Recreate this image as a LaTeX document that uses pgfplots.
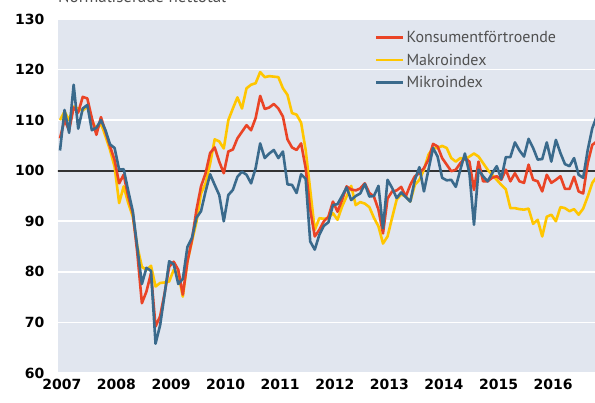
\documentclass[border=0pt]{standalone}
\usepackage{pgfplots}
\usepackage{pgfplotstable}
\pgfplotsset{compat=1.18}
\usepackage{fontspec}
\setmainfont{PT Sans}
\newfontfamily\tickfont{DejaVu Sans}
\definecolor{bg}{RGB}{225,230,239}
\definecolor{kred}{RGB}{234,68,38}
\definecolor{kyel}{RGB}{255,198,0}
\definecolor{kblue}{RGB}{58,106,140}
\definecolor{ltext}{RGB}{80,80,80}

\pgfplotstableread{
m kons makro mikro
0 106.4 110 104
1 110 111.7 112
2 108 110 107.5
3 112.5 112.7 117
4 111.5 112.3 108.3
5 114.6 111.9 112.3
6 114.3 112.7 113
7 110.4 110 108
8 107.1 108 108.5
9 110.6 109.4 110
10 107.7 106.8 108
11 104.8 104.1 105.2
12 102.1 100.8 104.5
13 97.5 93.6 100.2
14 99.2 96.9 100.3
15 94.9 93.6 96
16 91.6 90.9 92
17 83.7 85 84.8
18 73.8 81 77.6
19 76.1 80.4 80.8
20 79.7 81.2 80.2
21 69.2 77.1 65.8
22 71.2 77.8 69.4
23 75.8 77.9 75.6
24 81 78.1 82.1
25 82 80.4 81.5
26 80.4 79.7 77.6
27 75.5 75.1 78.6
28 82 82 84.9
29 86.3 86 86.7
30 92.3 89.9 90.7
31 96.9 95.5 92
32 99.5 97.5 95.9
33 103.5 101.4 99.3
34 104.6 106.2 97.2
35 101.8 105.8 95.2
36 99.5 104.4 90
37 103.8 110 95.2
38 104.2 112.3 96.2
39 106.4 114.5 98.8
40 107.7 112.3 99.8
41 109 116.3 99.2
42 108 117 97.5
43 110.4 117.3 100.5
44 114.8 119.5 105.4
45 112.2 118.5 102.5
46 112.5 118.7 103.4
47 113.2 118.6 104.1
48 112.3 118.5 102.5
49 110.7 116.3 103.8
50 106.2 115 97.3
51 104.6 111.4 97.2
52 104.1 111.1 95.6
53 105.4 109.5 99.3
54 100.5 104.1 98.4
55 92.3 96.2 86
56 87 88.3 84.4
57 88.3 90.6 87.3
58 90 90.5 89.1
59 90.9 90.6 89.8
60 93.9 91.6 93.2
61 91.9 90.3 93.4
62 94.2 92.9 95
63 96.9 94.9 96.7
64 96.3 97 94.2
65 96.1 93.2 95
66 96.5 93.8 95.5
67 97.5 93.5 97.4
68 95.6 92.8 94.9
69 94.9 90.7 95
70 92.3 89 97
71 87.6 85.6 88.6
72 94.5 87 98.2
73 95.9 90.7 96.6
74 96.1 94.3 94.6
75 96.8 95.3 95.7
76 94.9 94.9 94.8
77 97.2 93.9 93.9
78 98.9 97.2 98.2
79 99.5 98.2 100.7
80 100.5 100.2 95.9
81 102.2 103.2 100.2
82 105.3 104.5 104.5
83 104.8 104.5 102.8
84 102.5 104.9 98.6
85 101.2 104.5 98.1
86 99.9 102.5 98.2
87 100.2 101.8 96.8
88 101.5 102.5 100.2
89 102.5 102.2 103.4
90 101.8 102.8 99.5
91 96.2 103.4 89.3
92 101.8 102.8 100.2
93 97.9 101.5 98.9
94 97.9 100.2 97.9
95 98.6 99.2 99.5
96 98.9 98.2 100.9
97 98.2 97.2 98.4
98 100.2 96.3 102.7
99 97.9 92.6 102.7
100 99.5 92.6 105.6
101 97.9 92.4 104
102 97.6 92.3 102.8
103 101.2 92.5 106.3
104 98.2 89.5 104.5
105 97.9 90.3 102.2
106 95.9 87 102.3
107 99.2 90.9 105.6
108 97.6 91.3 101.8
109 98.2 90 106.1
110 98.9 92.8 103.5
111 96.4 92.6 101.3
112 96.4 92 100.9
113 98.8 92.4 102.5
114 95.9 91.3 99.2
115 95.5 92.5 98.6
116 101.5 94.9 104.1
117 105.1 97.6 108.4
118 105.8 98.8 110.8
}\datatable

\begin{document}
\begin{tikzpicture}[x=1pt,y=1pt]
\useasboundingbox (0,0) rectangle (595,403);
\clip (0,0) rectangle (595,403);
\node[anchor=base west, text=ltext, font=\fontsize{17}{17}\selectfont, inner sep=0pt] at (58,400) {Normaliserade nettotal};
\begin{axis}[
  at={(58pt,30pt)}, anchor=south west,
  width=537pt, height=354pt, scale only axis,
  xmin=-0.44, xmax=117.6, ymin=60, ymax=130,
  axis background/.style={fill=bg},
  axis line style={draw=none},
  major tick length=0pt,
  ytick={60,70,...,130},
  xtick={0.4,12.4,24.4,36.4,48.4,60.4,72.4,84.4,96.4,108.4},
  xticklabels={2007,2008,2009,2010,2011,2012,2013,2014,2015,2016},
  ymajorgrids, major grid style={white, line width=1.6pt},
  /pgf/number format/assume math mode=true,
  ticklabel style={font=\tickfont\bfseries\fontsize{14}{14}\selectfont, text=black},
  yticklabel style={xshift=-10pt},
  xticklabel style={yshift=-3pt},
  legend style={at={(0.588,0.974)}, anchor=north west, draw=none, fill=none,
    font=\fontsize{16}{16}\selectfont, text=ltext, row sep=5.5pt, inner sep=1pt},
  legend cell align=left,
  legend image code/.code={\draw[#1] (0pt,0pt) -- (27pt,0pt);},
  every axis plot/.append style={line width=2.6pt, line join=round},
]
\addplot[black!80, line width=1.6pt, forget plot] coordinates {(-2,100) (120,100)};
\addplot[kyel, forget plot] table[x=m, y=makro] {\datatable};
\addplot[kred, forget plot] table[x=m, y=kons] {\datatable};
\addplot[kblue, forget plot] table[x=m, y=mikro] {\datatable};
\addlegendimage{kred, line width=2.6pt}
\addlegendentry{Konsumentförtroende}
\addlegendimage{kyel, line width=2.6pt}
\addlegendentry{Makroindex}
\addlegendimage{kblue, line width=2.6pt}
\addlegendentry{Mikroindex}
\end{axis}
\end{tikzpicture}
\end{document}
